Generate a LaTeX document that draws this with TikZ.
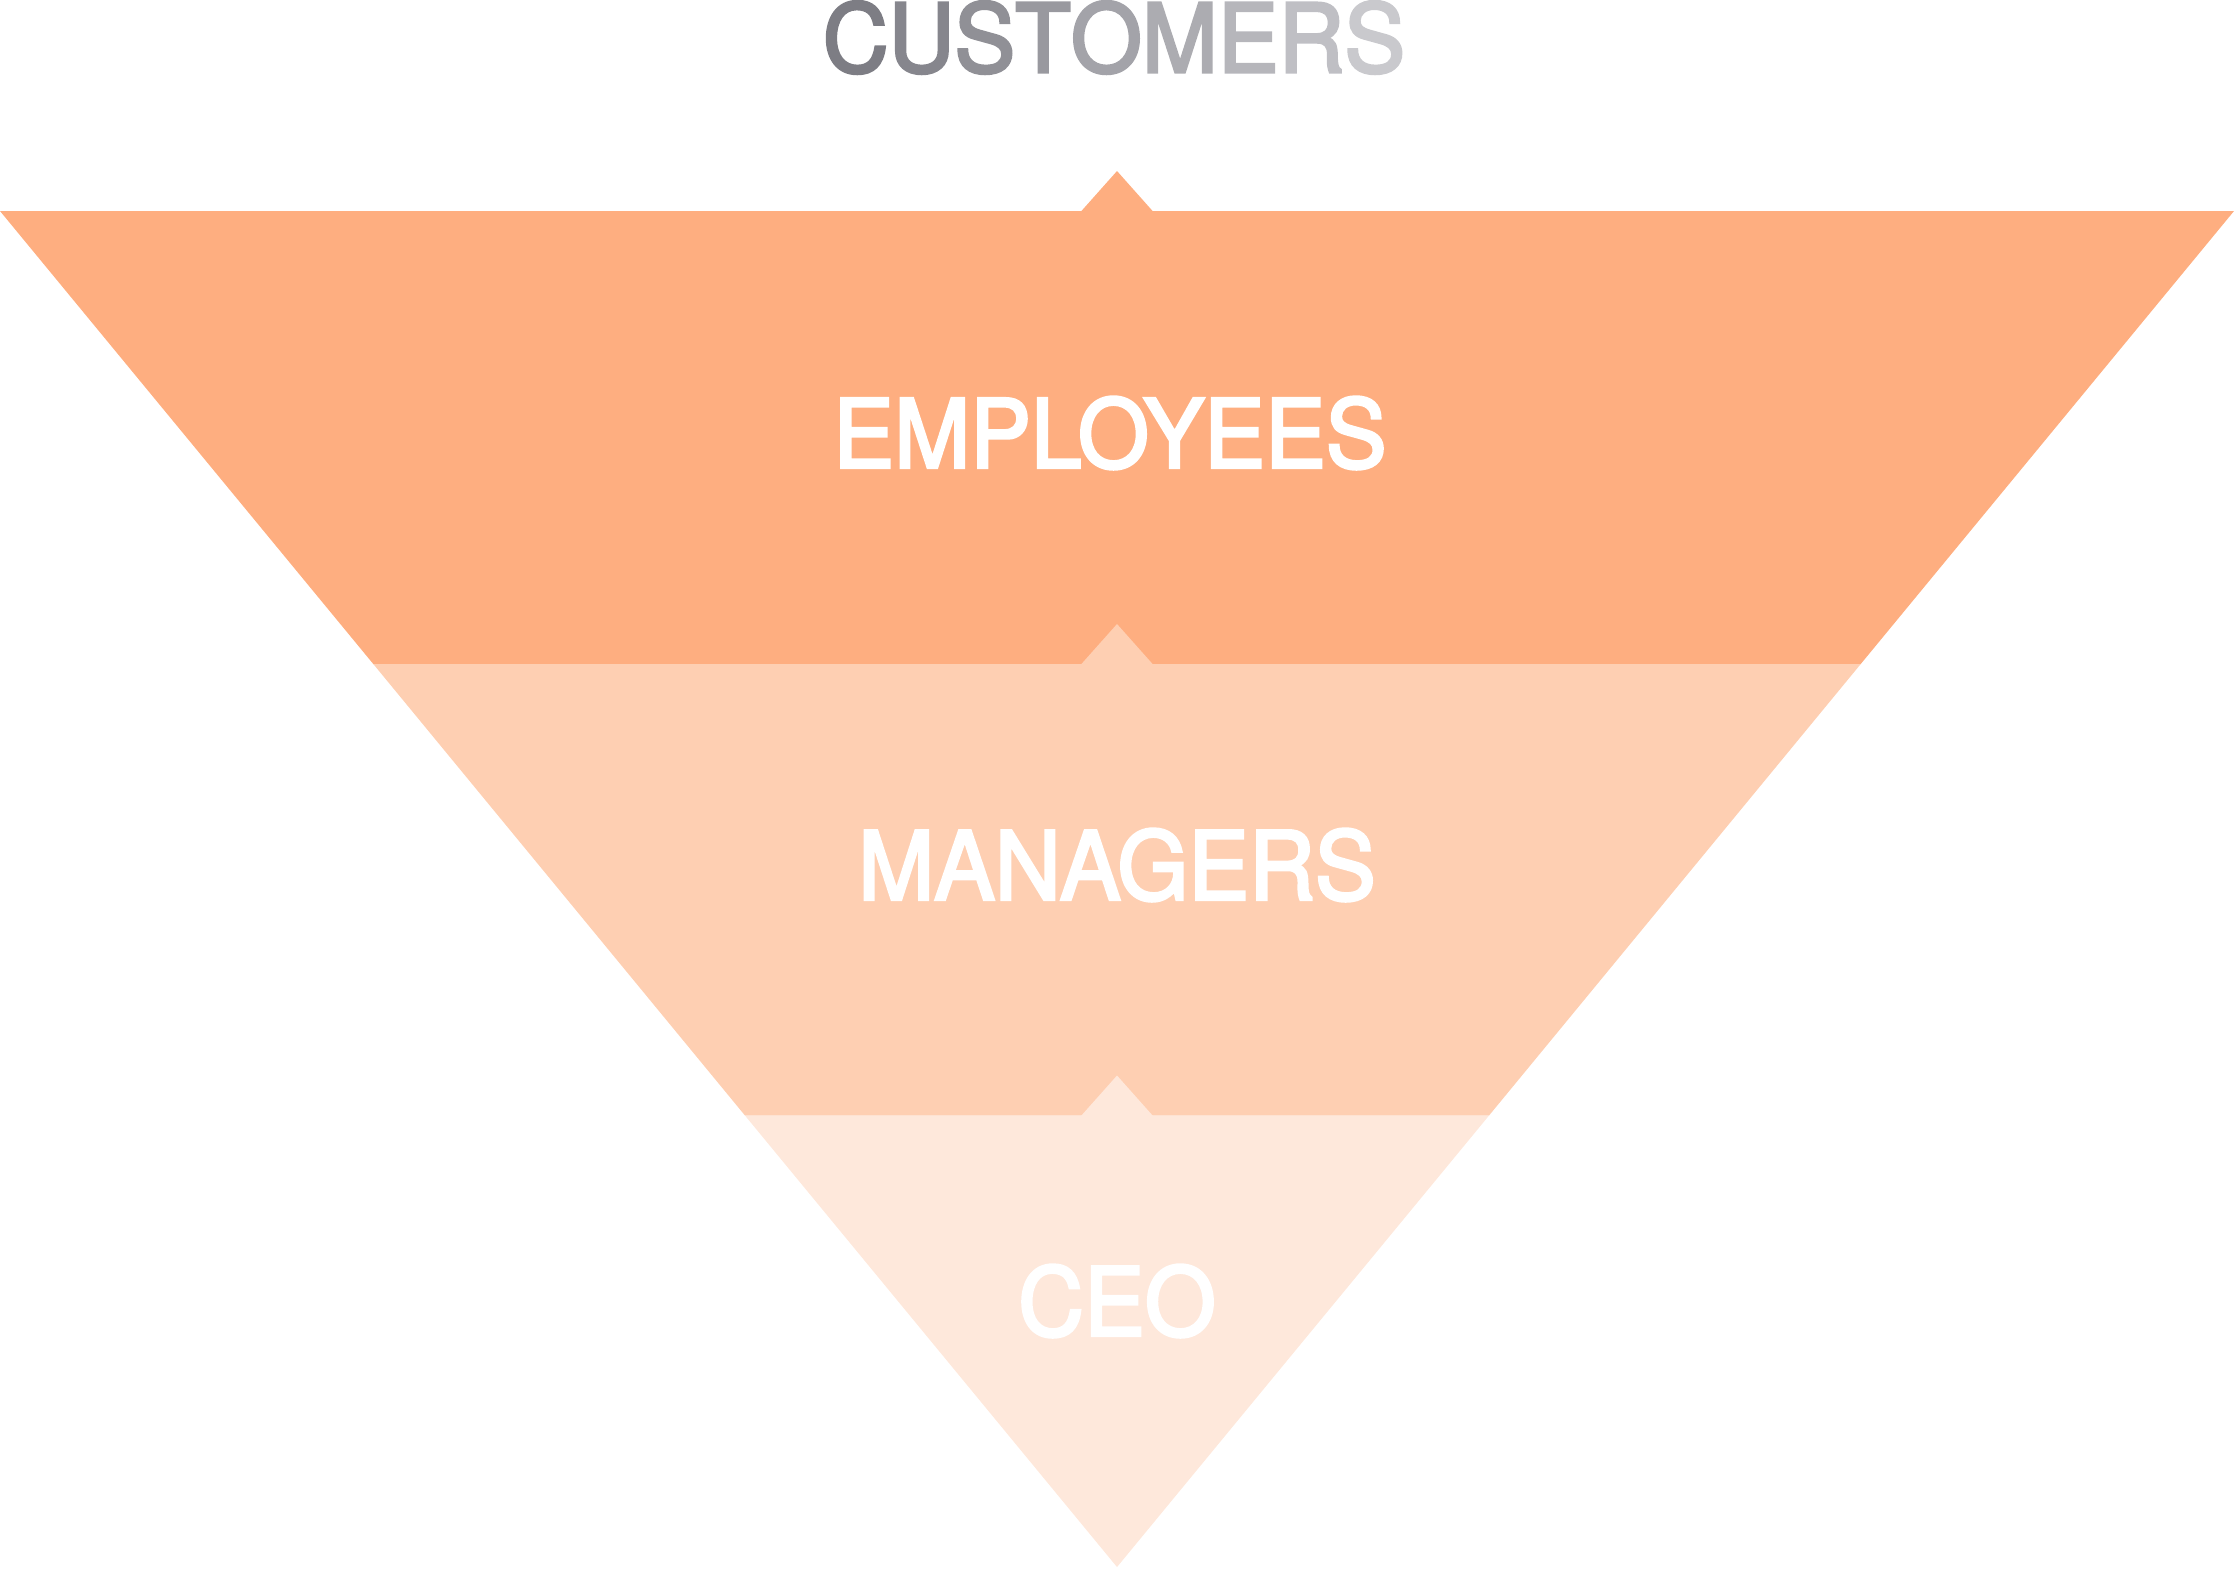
\documentclass[tikz,border=0pt]{standalone}
\usepackage{fontspec}
\setmainfont{TeX Gyre Heros}[FakeStretch=0.96, BoldFont=TeX Gyre Heros, BoldFeatures={FakeBold=3}]
\usepackage{tikz}
\usetikzlibrary{positioning}
\definecolor{empcol}{RGB}{254,174,128}
\definecolor{mgrcol}{RGB}{254,207,178}
\definecolor{ceocol}{RGB}{254,232,219}
\definecolor{custdark}{RGB}{125,125,132}
\definecolor{custlight}{RGB}{201,201,205}

\begin{document}
\begin{tikzpicture}[x=0.01cm, y=-0.01cm, level label/.style={inner sep=0pt, text=white, font=\fontsize{27}{27}\selectfont\bfseries}]
\useasboundingbox (0,0) rectangle (2234,1568);
% bands, each with its small notch on top
\fill[empcol] (0,211) -- (1081.4,211) -- (1117,171) -- (1152.6,211) -- (2234,211) -- (1860.7,664) -- (373.3,664) -- cycle;
\fill[mgrcol] (373.3,664) -- (1081.4,664) -- (1117,624) -- (1152.6,664) -- (1860.7,664) -- (1489,1115.5) -- (745,1115.5) -- cycle;
\fill[ceocol] (745,1115.5) -- (1081.4,1115.5) -- (1117,1075.5) -- (1152.6,1115.5) -- (1489,1115.5) -- (1117,1567) -- cycle;
\begin{scope}[every node/.style={level label}]
\node (emp) at (1110,433) {EMPLOYEES};
\node (mgr) at (1117,865) {MANAGERS};
\node (ceo) at (1117,1301) {CEO};
\node[text=custdark] (cust) at (1114,37.5) {{\color{custdark!100!custlight}C}{\color{custdark!88!custlight}U}{\color{custdark!75!custlight}S}{\color{custdark!63!custlight}T}{\color{custdark!50!custlight}O}{\color{custdark!38!custlight}M}{\color{custdark!25!custlight}E}{\color{custdark!13!custlight}R}{\color{custdark!0!custlight}S}};
\end{scope}
\end{tikzpicture}
\end{document}
